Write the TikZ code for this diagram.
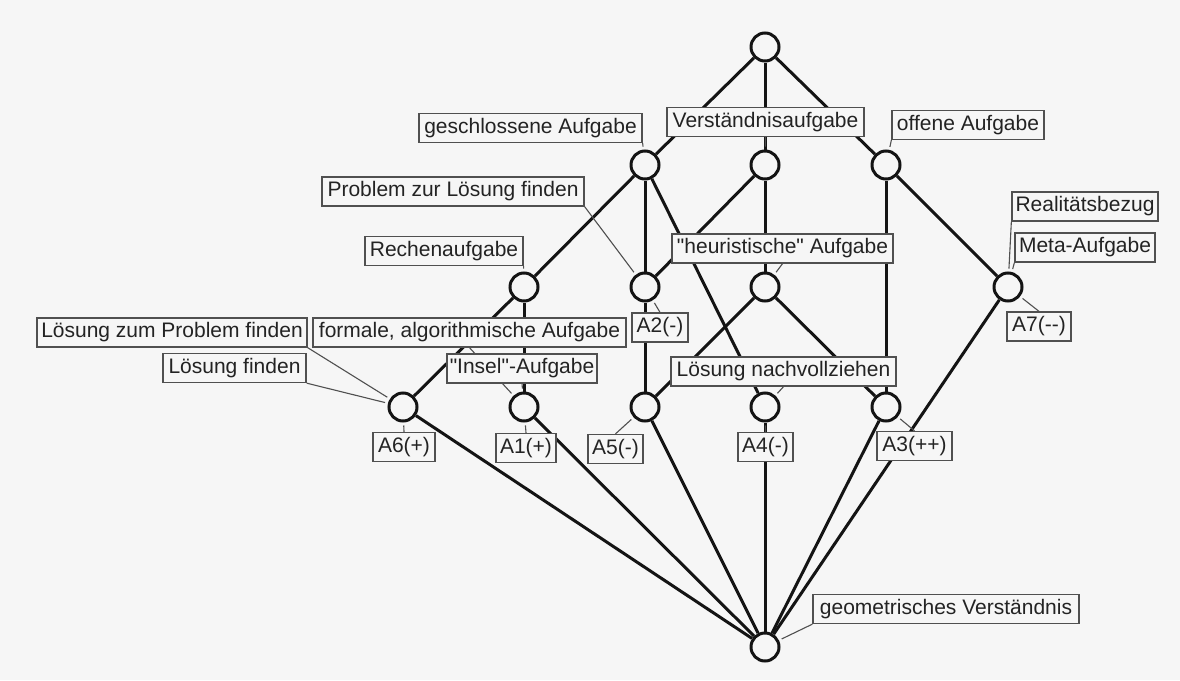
\documentclass[tikz,border=0pt]{standalone}
\usepackage{fontspec}
\setmainfont{Liberation Sans}[Ligatures=TeXOff]
\usetikzlibrary{backgrounds}
\pgfdeclarelayer{bgfill}
\pgfsetlayers{bgfill,background,main}
\definecolor{bg}{RGB}{246,246,246}
\definecolor{edgec}{RGB}{20,20,20}
\definecolor{boxln}{RGB}{80,80,80}
\definecolor{txt}{RGB}{35,35,35}
\tikzset{
  conc/.style={circle, draw=edgec, line width=3pt, fill=bg, minimum size=28pt, inner sep=0pt},
  lbl/.style={draw=boxln, line width=1.3pt, fill=bg, text=txt, inner sep=0pt, minimum height=29pt, font=\fontsize{21}{25}\selectfont},
  edg/.style={draw=edgec, line width=3pt},
  leader/.style={draw=boxln, line width=1.1pt, shorten >=3pt},
}
\begin{document}
\begin{tikzpicture}[x=1pt,y=-1pt]
\begin{pgfonlayer}{bgfill}
  \fill[bg] (0,0) rectangle (1180,680);
\end{pgfonlayer}
\useasboundingbox (0,0) rectangle (1180,680);
% concepts
\node[conc] (top) at (765,47) {};
\node[conc] (G) at (645,165) {};
\node[conc] (V) at (765,165) {};
\node[conc] (O) at (886,165) {};
\node[conc] (R) at (524,287) {};
\node[conc] (P) at (645,287) {};
\node[conc] (H) at (765,287) {};
\node[conc] (M) at (1008,287) {};
\node[conc] (A6) at (403,407) {};
\node[conc] (A1) at (524,407) {};
\node[conc] (A5) at (645,407) {};
\node[conc] (A4) at (765,407) {};
\node[conc] (A3) at (886,407) {};
\node[conc] (bot) at (765,647) {};
% labels
\node[lbl, minimum width=223pt] (lGes) at (530.5,128) {geschlossene Aufgabe};
\node[lbl, minimum width=197pt] (lVer) at (765.5,122) {Verständnisaufgabe};
\node[lbl, minimum width=152pt] (lOff) at (968,125) {offene Aufgabe};
\node[lbl, minimum width=262pt] (lProb) at (453,191.5) {Problem zur Lösung finden};
\node[lbl, minimum width=158pt] (lRech) at (444,251) {Rechenaufgabe};
\node[lbl, minimum width=221pt] (lHeu) at (782.5,248.5) {"heuristische" Aufgabe};
\node[lbl, minimum width=146pt] (lReal) at (1085,206.5) {Realitätsbezug};
\node[lbl, minimum width=140pt] (lMeta) at (1085,247.5) {Meta-Aufgabe};
\node[lbl, minimum width=56pt] (lA2) at (660,327.5) {A2(-)};
\node[lbl, minimum width=64pt] (lA7) at (1039,326.5) {A7(--)};
\node[lbl, minimum width=270pt] (lLzP) at (172,332.5) {Lösung zum Problem finden};
\node[lbl, minimum width=313pt] (lForm) at (469.5,332.5) {formale, algorithmische Aufgabe};
\node[lbl, minimum width=143pt] (lLf) at (234.5,368) {Lösung finden};
\node[lbl, minimum width=150pt] (lIns) at (522,368.5) {"Insel"-Aufgabe};
\node[lbl, minimum width=225pt] (lLnv) at (783.5,371.5) {Lösung nachvollziehen};
\node[lbl, minimum width=62pt] (lA6) at (404,447) {A6(+)};
\node[lbl, minimum width=60pt] (lA1) at (526,448) {A1(+)};
\node[lbl, minimum width=55pt] (lA5) at (615.5,449) {A5(-)};
\node[lbl, minimum width=55pt] (lA4) at (765.5,447) {A4(-)};
\node[lbl, minimum width=75pt] (lA3) at (914.5,446) {A3(++)};
\node[lbl, minimum width=266pt] (lGeo) at (946,609) {geometrisches Verständnis};
\begin{pgfonlayer}{background}
  % lattice edges
  \draw[edg] (top) -- (G);
  \draw[edg] (top) -- (V);
  \draw[edg] (top) -- (O);
  \draw[edg] (G) -- (R);
  \draw[edg] (G) -- (P);
  \draw[edg] (G) -- (A4);
  \draw[edg] (V) -- (P);
  \draw[edg] (V) -- (H);
  \draw[edg] (O) -- (M);
  \draw[edg] (O) -- (A3);
  \draw[edg] (R) -- (A6);
  \draw[edg] (R) -- (A1);
  \draw[edg] (P) -- (A5);
  \draw[edg] (H) -- (A5);
  \draw[edg] (H) -- (A3);
  \draw[edg] (A6) -- (bot);
  \draw[edg] (A1) -- (bot);
  \draw[edg] (A5) -- (bot);
  \draw[edg] (A4) -- (bot);
  \draw[edg] (A3) -- (bot);
  \draw[edg] (M) -- (bot);
  % leaders
  \draw[leader] (lGes.south east) -- (G);
  \draw[leader] (lVer.south) -- (V);
  \draw[leader] (lOff.south west) -- (O);
  \draw[leader] (lProb.south east) -- (P);
  \draw[leader] (lRech.south east) -- (R);
  \draw[leader] (lHeu.south) -- (H);
  \draw[leader] (lReal.south west) -- (M);
  \draw[leader] (lMeta.south west) -- (M);
  \draw[leader] (lA2.north) -- (P);
  \draw[leader] (lA7.north) -- (M);
  \draw[leader] (lLzP.south east) -- (A6);
  \draw[leader] (lForm.south) -- (A1);
  \draw[leader] (lLf.south east) -- (A6);
  \draw[leader] (lIns.south) -- (A1);
  \draw[leader] (lLnv.south) -- (A4);
  \draw[leader] (lA6.north) -- (A6);
  \draw[leader] (lA1.north) -- (A1);
  \draw[leader] (lA5.north) -- (A5);
  \draw[leader] (lA4.north) -- (A4);
  \draw[leader] (lA3.north) -- (A3);
  \draw[leader] (lGeo.south west) -- (bot);
\end{pgfonlayer}
\end{tikzpicture}
\end{document}
